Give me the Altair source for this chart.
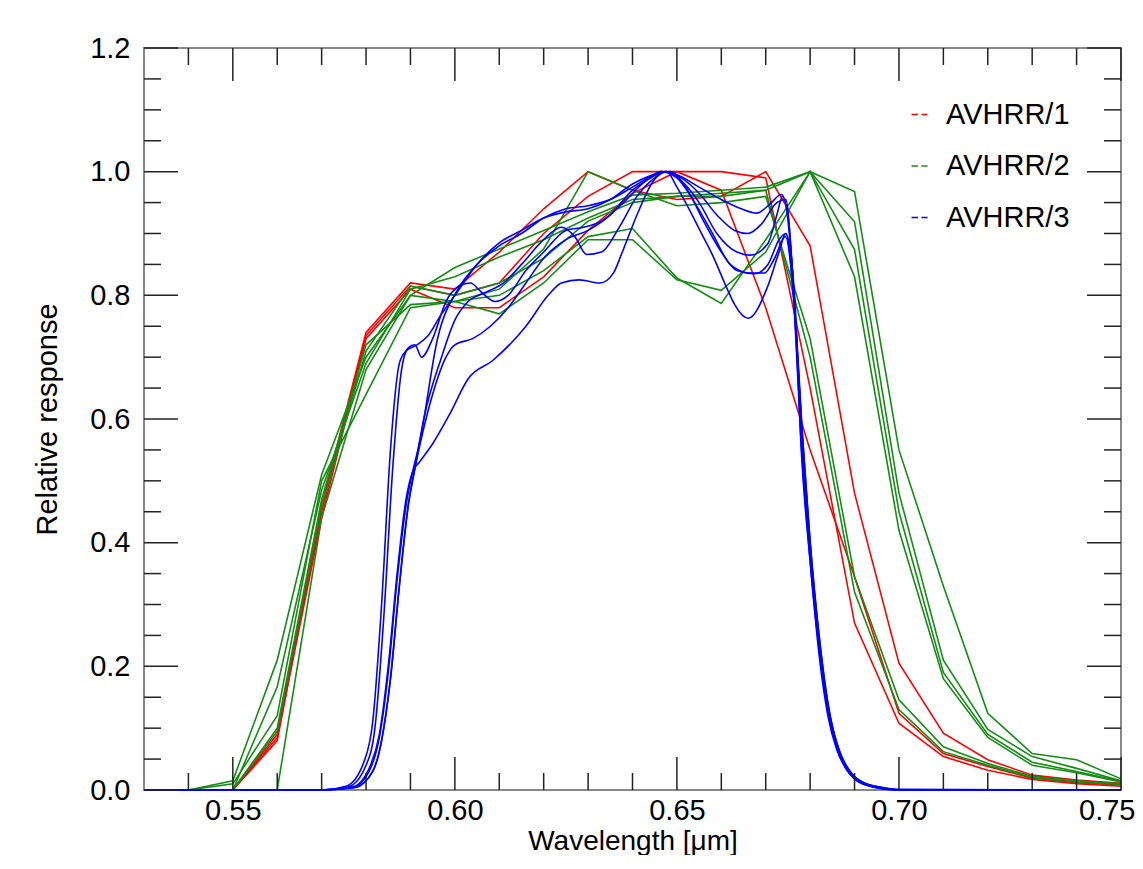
import altair as alt
import pandas as pd

# ---------------- data ----------------
WL = [0.53, 0.54, 0.55, 0.56, 0.57, 0.58, 0.59, 0.60, 0.61, 0.62, 0.63, 0.64,
      0.65, 0.66, 0.67, 0.68, 0.69, 0.70, 0.71, 0.72, 0.73, 0.74, 0.75]

# AVHRR/1 (red)
R1 = [0, 0, 0, 0.08, 0.46, 0.74, 0.82, 0.81, 0.87, 0.94, 1.00, 0.97, 0.955, 0.96, 1.00, 0.88, 0.48, 0.205, 0.092, 0.049, 0.024, 0.016, 0.011]
R2 = [0, 0, 0, 0.09, 0.45, 0.735, 0.815, 0.80, 0.82, 0.90, 0.96, 1.00, 1.00, 0.97, 0.78, 0.55, 0.345, 0.124, 0.059, 0.038, 0.019, 0.012, 0.008]
R3 = [0, 0, 0, 0.085, 0.44, 0.73, 0.81, 0.78, 0.78, 0.83, 0.905, 0.965, 1.00, 1.00, 0.99, 0.65, 0.27, 0.108, 0.054, 0.032, 0.017, 0.010, 0.006]

# AVHRR/2 (green)
G1 = [0, 0, 0.015, 0.21, 0.51, 0.70, 0.80, 0.845, 0.875, 0.905, 0.935, 0.962, 0.965, 0.97, 0.975, 1.00, 0.968, 0.55, 0.33, 0.124, 0.059, 0.049, 0.018]
G2 = [0, 0, 0.0, 0.167, 0.485, 0.69, 0.81, 0.83, 0.862, 0.89, 0.925, 0.955, 0.96, 0.96, 0.97, 1.00, 0.919, 0.48, 0.21, 0.098, 0.054, 0.035, 0.015]
G3 = [0, 0, 0.0, 0.10, 0.47, 0.72, 0.785, 0.79, 0.80, 0.84, 0.895, 0.908, 0.828, 0.787, 0.89, 1.00, 0.874, 0.45, 0.19, 0.09, 0.045, 0.03, 0.014]
G4 = [0, 0, 0.0, 0.0, 0.44, 0.68, 0.80, 0.79, 0.77, 0.82, 0.89, 0.89, 0.825, 0.808, 0.87, 1.00, 0.83, 0.42, 0.18, 0.085, 0.04, 0.028, 0.013]
G5 = [0, 0, 0.01, 0.12, 0.50, 0.64, 0.78, 0.79, 0.81, 0.875, 1.00, 0.97, 0.945, 0.95, 0.96, 0.73, 0.345, 0.146, 0.07, 0.043, 0.022, 0.015, 0.01]
G6 = [0, 0, 0.0, 0.095, 0.46, 0.71, 0.815, 0.80, 0.82, 0.86, 0.92, 0.95, 0.96, 0.965, 0.97, 0.70, 0.32, 0.13, 0.062, 0.04, 0.02, 0.013, 0.009]

# AVHRR/3 (blue), finely sampled curves: [wavelength, response]
B1 = [[0.53, 0], [0.570, 0], [0.576, 0.005], [0.580, 0.04], [0.582, 0.10], [0.584, 0.28], [0.586, 0.52],
      [0.588, 0.68], [0.5895, 0.715], [0.591, 0.72], [0.5925, 0.70], [0.595, 0.73], [0.598, 0.79],
      [0.601, 0.815], [0.6035, 0.82], [0.606, 0.805], [0.609, 0.79], [0.612, 0.80], [0.616, 0.84],
      [0.620, 0.87], [0.625, 0.905], [0.629, 0.91], [0.633, 0.92], [0.638, 0.95], [0.643, 0.985],
      [0.6475, 1.0], [0.651, 0.99], [0.655, 0.965], [0.659, 0.93], [0.663, 0.905], [0.666, 0.90],
      [0.669, 0.915], [0.6725, 0.95], [0.6745, 0.955], [0.676, 0.84], [0.678, 0.60], [0.680, 0.40],
      [0.682, 0.25], [0.684, 0.14], [0.686, 0.075], [0.688, 0.04], [0.690, 0.02], [0.694, 0.006],
      [0.700, 0.001], [0.75, 0]]
B2 = [[0.53, 0], [0.570, 0], [0.577, 0.005], [0.581, 0.04], [0.583, 0.09], [0.585, 0.20], [0.587, 0.35],
      [0.589, 0.47], [0.5905, 0.515], [0.592, 0.53], [0.595, 0.56], [0.599, 0.61], [0.603, 0.665],
      [0.6086, 0.695], [0.616, 0.75], [0.621, 0.80], [0.624, 0.82], [0.628, 0.825], [0.6327, 0.82],
      [0.6357, 0.836], [0.6376, 0.868], [0.641, 0.93], [0.6447, 0.985], [0.6477, 1.0], [0.650, 0.975],
      [0.657, 0.88], [0.6661, 0.763], [0.6702, 0.81], [0.673, 0.87], [0.6745, 0.90], [0.6765, 0.80],
      [0.678, 0.55], [0.680, 0.37], [0.682, 0.22], [0.684, 0.12], [0.686, 0.065], [0.688, 0.035],
      [0.690, 0.018], [0.694, 0.005], [0.700, 0.0], [0.75, 0]]
B3 = [[0.53, 0], [0.570, 0], [0.577, 0.004], [0.581, 0.035], [0.583, 0.085], [0.585, 0.19], [0.587, 0.34],
      [0.589, 0.46], [0.5905, 0.515], [0.592, 0.56], [0.5962, 0.733], [0.6007, 0.81], [0.605, 0.85],
      [0.610, 0.88], [0.615, 0.90], [0.620, 0.925], [0.625, 0.94], [0.630, 0.945], [0.635, 0.955],
      [0.640, 0.975], [0.645, 0.995], [0.6485, 1.0], [0.652, 0.975], [0.656, 0.92], [0.660, 0.87],
      [0.6635, 0.84], [0.6675, 0.835], [0.6705, 0.85], [0.673, 0.89], [0.6745, 0.90], [0.6765, 0.78],
      [0.6785, 0.55], [0.6805, 0.36], [0.6825, 0.22], [0.6845, 0.12], [0.6865, 0.065], [0.689, 0.03],
      [0.692, 0.012], [0.697, 0.003], [0.700, 0.0], [0.75, 0]]
B4 = [[0.53, 0], [0.570, 0], [0.5755, 0.006], [0.5795, 0.045], [0.5815, 0.11], [0.5835, 0.30], [0.5855, 0.55],
      [0.5875, 0.69], [0.589, 0.71], [0.5915, 0.72], [0.594, 0.735], [0.597, 0.77], [0.600, 0.80],
      [0.605, 0.85], [0.610, 0.885], [0.615, 0.905], [0.620, 0.925], [0.625, 0.935], [0.630, 0.94],
      [0.635, 0.955], [0.640, 0.98], [0.6445, 0.995], [0.6465, 1.0], [0.650, 0.995], [0.655, 0.975],
      [0.660, 0.955], [0.6645, 0.94], [0.668, 0.933], [0.671, 0.948], [0.6735, 0.963], [0.675, 0.93],
      [0.677, 0.72], [0.679, 0.48], [0.681, 0.31], [0.683, 0.18], [0.685, 0.10], [0.687, 0.055],
      [0.689, 0.03], [0.692, 0.012], [0.697, 0.003], [0.700, 0.0], [0.75, 0]]
B5 = [[0.53, 0], [0.570, 0], [0.5775, 0.004], [0.5815, 0.03], [0.5835, 0.08], [0.5855, 0.18], [0.5875, 0.33],
      [0.5895, 0.46], [0.591, 0.52], [0.593, 0.60], [0.597, 0.70], [0.600, 0.76], [0.603, 0.79],
      [0.607, 0.805], [0.611, 0.82], [0.615, 0.85], [0.620, 0.89], [0.624, 0.91], [0.627, 0.895],
      [0.6297, 0.866], [0.633, 0.87], [0.637, 0.91], [0.641, 0.96], [0.645, 0.99], [0.6475, 1.0],
      [0.651, 0.985], [0.655, 0.95], [0.659, 0.90], [0.6635, 0.87], [0.6665, 0.865], [0.6705, 0.884],
      [0.6725, 0.93], [0.6738, 0.96], [0.6758, 0.86], [0.6778, 0.60], [0.6798, 0.40], [0.6818, 0.25],
      [0.6838, 0.14], [0.6858, 0.075], [0.6878, 0.04], [0.690, 0.02], [0.694, 0.006], [0.700, 0.0], [0.75, 0]]
B6 = [[0.53, 0], [0.570, 0], [0.5775, 0.004], [0.5815, 0.03], [0.5835, 0.08], [0.5855, 0.18], [0.5875, 0.33],
      [0.5895, 0.46], [0.591, 0.52], [0.5925, 0.57], [0.595, 0.64], [0.598, 0.70], [0.600, 0.72],
      [0.604, 0.73], [0.608, 0.75], [0.612, 0.78], [0.616, 0.82], [0.620, 0.86], [0.625, 0.89],
      [0.630, 0.905], [0.635, 0.93], [0.640, 0.97], [0.644, 0.99], [0.6465, 1.0], [0.650, 0.99],
      [0.654, 0.95], [0.658, 0.90], [0.662, 0.85], [0.6664, 0.836], [0.6697, 0.836], [0.672, 0.86],
      [0.6744, 0.895], [0.6762, 0.80], [0.678, 0.56], [0.680, 0.37], [0.682, 0.23], [0.684, 0.13],
      [0.686, 0.07], [0.688, 0.036], [0.690, 0.018], [0.694, 0.005], [0.700, 0.0], [0.75, 0]]

INSTRUMENTS = ["AVHRR/1", "AVHRR/2", "AVHRR/3"]
COLORS = ["#ff0000", "#148c14", "#0000ff"]

X_MAJOR = [0.55, 0.60, 0.65, 0.70, 0.75]
X_MINOR = [0.54, 0.56, 0.57, 0.58, 0.59, 0.61, 0.62, 0.63, 0.64, 0.66, 0.67, 0.68, 0.69,
           0.71, 0.72, 0.73, 0.74]
Y_MAJOR = [0.0, 0.2, 0.4, 0.6, 0.8, 1.0, 1.2]
Y_MINOR = [0.05, 0.10, 0.15, 0.25, 0.30, 0.35, 0.45, 0.50, 0.55, 0.65, 0.70, 0.75,
           0.85, 0.90, 0.95, 1.05, 1.10, 1.15]

# ---------------- tables ----------------
W, H = 977, 742
FONT = "Liberation Sans"

rows = []
for name, vals in [("R1", R1), ("R2", R2), ("R3", R3)]:
    for w, v in zip(WL, vals):
        rows.append({"w": w, "v": v, "inst": "AVHRR/1", "curve": name, "order": w})
for name, vals in [("G1", G1), ("G2", G2), ("G3", G3), ("G4", G4), ("G5", G5), ("G6", G6)]:
    for w, v in zip(WL, vals):
        rows.append({"w": w, "v": v, "inst": "AVHRR/2", "curve": name, "order": w})
df_lin = pd.DataFrame(rows)

brows = []
for name, pts in [("B1", B1), ("B2", B2), ("B3", B3), ("B4", B4), ("B5", B5), ("B6", B6)]:
    for w, v in pts:
        brows.append({"w": w, "v": v, "inst": "AVHRR/3", "curve": name, "order": w})
df_blue = pd.DataFrame(brows)

xscale = alt.Scale(domain=[0.53, 0.75], nice=False, zero=False)
yscale = alt.Scale(domain=[0.0, 1.2], nice=False, zero=False)

x_axis = alt.Axis(values=X_MAJOR, format=".2f", ticks=False, tickSize=0, domain=False, grid=False,
                  labelFlush=True, labelFlushOffset=14, labelOverlap=False,
                  labelFontSize=29, labelFont=FONT, labelColor="black", labelPadding=6,
                  title="Wavelength [μm]", titleFontSize=28, titleFont=FONT, titleFontWeight="normal",
                  titleColor="black", titleY=59, titleBaseline="alphabetic")
y_axis = alt.Axis(values=Y_MAJOR, format=".1f", ticks=False, tickSize=0, domain=False, grid=False,
                  labelFlush=False, labelOverlap=False,
                  labelFontSize=29, labelFont=FONT, labelColor="black", labelPadding=14,
                  title="Relative response", titleFontSize=29, titleFont=FONT, titleFontWeight="normal",
                  titleColor="black", titleX=-97, titleY=H / 2, titleBaseline="middle", titleAlign="center")

legend = alt.Legend(orient="none", legendX=761, legendY=52, title=None, symbolType="stroke",
                    symbolSize=256, symbolStrokeWidth=1.5, symbolDash=[6.5, 3.5],
                    labelFontSize=29, labelFont=FONT, labelColor="black", labelOffset=12,
                    rowPadding=21.5, padding=0)
color = alt.Color("inst:N", scale=alt.Scale(domain=INSTRUMENTS, range=COLORS), legend=legend)

lin = alt.Chart(df_lin).mark_line(strokeWidth=1.6, interpolate="linear").encode(
    x=alt.X("w:Q", scale=xscale, axis=x_axis),
    y=alt.Y("v:Q", scale=yscale, axis=y_axis),
    color=color,
    detail="curve:N",
    order="order:Q",
)

blue = alt.Chart(df_blue).mark_line(strokeWidth=1.6, interpolate="monotone").encode(
    x=alt.X("w:Q", scale=xscale, axis=x_axis),
    y=alt.Y("v:Q", scale=yscale, axis=y_axis),
    color=color,
    detail="curve:N",
    order="order:Q",
)

TICK = "#222222"


def xticks(vals, y0, y1):
    return alt.Chart(pd.DataFrame({"w": vals})).mark_rule(color=TICK, strokeWidth=1.5).encode(
        x=alt.X("w:Q", scale=xscale, axis=x_axis), y=alt.value(y0), y2=alt.value(y1))


def yticks(vals, x0, x1):
    return alt.Chart(pd.DataFrame({"v": vals})).mark_rule(color=TICK, strokeWidth=1.5).encode(
        y=alt.Y("v:Q", scale=yscale, axis=y_axis), x=alt.value(x0), x2=alt.value(x1))


ticks = [
    xticks(X_MAJOR, H, H - 33), xticks(X_MINOR, H, H - 17),
    xticks(X_MAJOR, 0, 33), xticks(X_MINOR, 0, 17),
    yticks(Y_MAJOR, 0, 34), yticks(Y_MINOR, 0, 17),
    yticks(Y_MAJOR, W, W - 34), yticks(Y_MINOR, W, W - 17),
]

chart = alt.layer(lin, blue, *ticks).properties(
    width=W, height=H,
    autosize=alt.AutoSizeParams(type="none"),
    padding={"left": 136, "top": 40, "right": 14, "bottom": 65},
    background="white",
).configure_view(stroke="#888888", strokeWidth=2)

chart.save("out.html", embed_options={"renderer": "svg", "actions": False})
